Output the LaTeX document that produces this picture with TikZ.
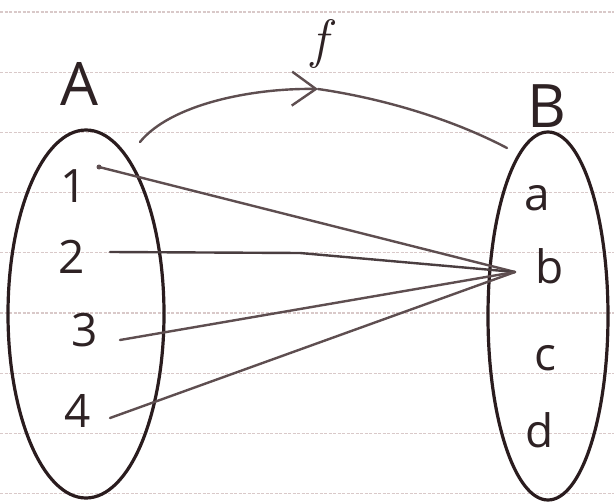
\documentclass[tikz,border=0pt]{standalone}
\usepackage{fontspec}
\newfontfamily\handsans{Open Sans}
\usetikzlibrary{shapes.geometric,arrows.meta}
\definecolor{inkc}{HTML}{2A1C1E}
\definecolor{connc}{HTML}{5E4E50}
\definecolor{textc}{HTML}{2E2224}
\definecolor{rulec}{HTML}{D9C9C9}
\begin{document}
\begin{tikzpicture}[x=1pt,y=-1pt,
  ink/.style={draw=inkc, line width=3.2pt},
  conn/.style={draw=connc, line width=2.4pt, line cap=round},
  lbl/.style={inner sep=0pt, text=textc, font=\handsans\fontsize{46}{50}\selectfont},
  caplbl/.style={inner sep=0pt, text=textc, font=\handsans\fontsize{60}{64}\selectfont},
  paperrule/.style={draw=rulec, line width=1.3pt, dash pattern=on 3pt off 1.5pt}]
\fill[white] (0,0) rectangle (614,503);
\useasboundingbox (0,0) rectangle (614,503);
% ruled paper
\foreach \yy in {12,72.2,132.4,192.6,252.8,313,373.2,433.4,493.6}
  \draw[paperrule] (0,\yy) -- (614,\yy);
% sets
\node[ellipse, ink, minimum width=156pt, minimum height=368pt, inner sep=0pt] (SA) at (86,314) {};
\node[ellipse, ink, minimum width=120pt, minimum height=368pt, inner sep=0pt] (SB) at (548,316) {};
% labels
\node[caplbl] (LA) at (79,84) {A};
\node[caplbl] (LB) at (547,106) {B};
\node[inner sep=0pt, text=textc, font=\fontsize{54}{58}\selectfont\itshape] (Lf) at (320,44) {f};
\node[lbl] (n1) at (74,186) {1};
\node[lbl] (n2) at (72,257) {2};
\node[lbl] (n3) at (85,330) {3};
\node[lbl] (n4) at (78,411) {4};
\node[lbl] (ea) at (537,198) {a};
\node[lbl] (eb) at (550,266) {b};
\node[lbl] (ec) at (545,358) {c};
\node[lbl] (ed) at (540,430) {d};
% connector end points
\coordinate (s1) at (99,167);
\coordinate (s2) at (110,252);
\coordinate (s3) at (120,340);
\coordinate (s4) at (110,418);
\coordinate (tip) at (515,272);
\coordinate (fs) at (140,142);
\coordinate (fm) at (318,89);
\coordinate (fe) at (507,148);
% mapping lines
\draw[conn] (s1) -- (tip);
\draw[conn, draw=inkc!85] (s2) -- (300,253) -- (tip);
\draw[conn] (s3) -- (tip);
\draw[conn] (s4) -- (tip);
\fill[connc] (s1) circle (2.5pt);
% f arrow
\draw[conn, -{Straight Barb[length=24pt, width=34pt]}]
  (fs) .. controls (170,105) and (250,88) .. (fm);
\draw[conn] (fm) .. controls (380,98) and (450,118) .. (fe);
\end{tikzpicture}
\end{document}
